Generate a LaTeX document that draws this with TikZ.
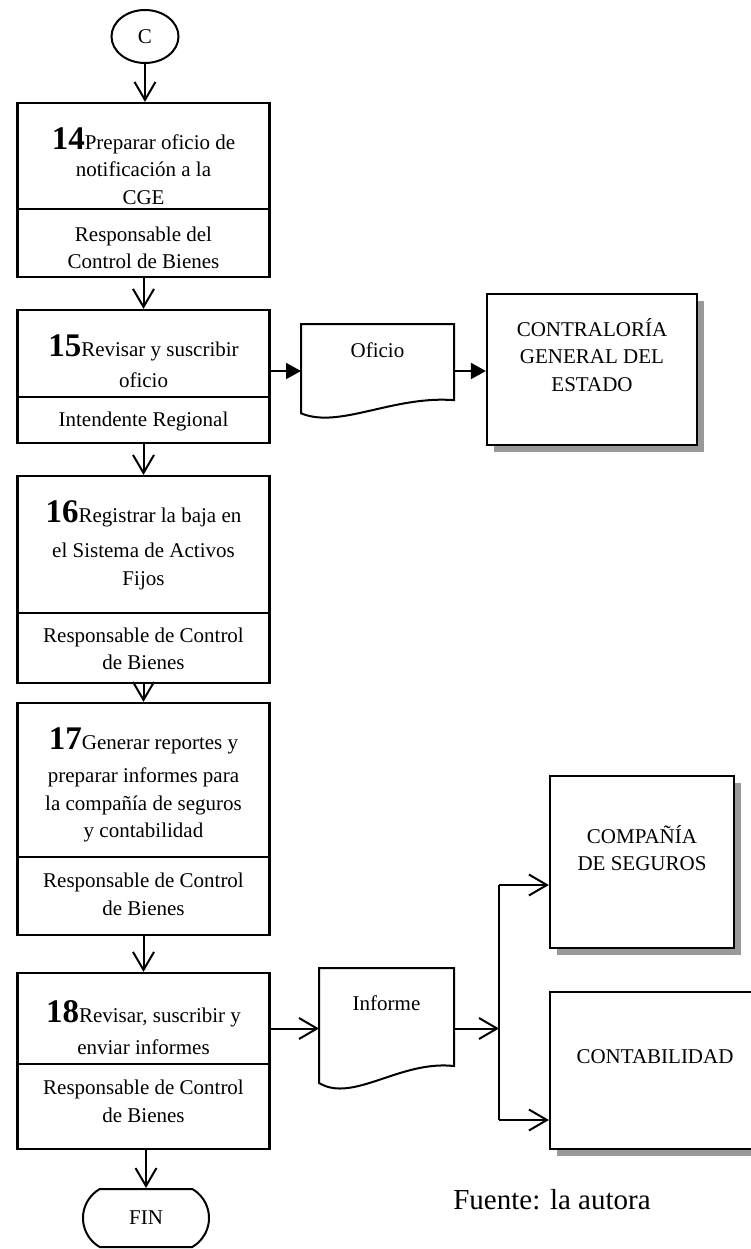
\documentclass[tikz,border=0pt]{standalone}
\usepackage{fontspec}
\setmainfont{Liberation Serif}
\usetikzlibrary{arrows.meta,shapes.geometric,shapes.misc,shadows}

% numero grande del paso
\newcommand{\npaso}[1]{{\fontsize{33}{27.5}\selectfont\bfseries #1}}
% contorno de documento (borde ondulado abajo) sobre el nodo #1, ancho #2, alto #3
\newcommand{\hoja}[3]{%
  \begin{scope}[shift={(#1.north west)},x=#2pt,y=-#3pt]
    \draw[line width=2pt] (0,0) -- (1,0) -- (1,0.81) .. controls (0.6,0.76) and (0.25,1.12) .. (0,0.95) -- cycle;
  \end{scope}}

\tikzset{
  caja/.style={draw, line width=2.2pt, minimum width=252pt, inner sep=0pt},
  texto/.style={align=center, font=\fontsize{21}{27.5}\selectfont, inner sep=0pt},
  externo/.style={draw, line width=2.2pt, fill=white, inner sep=0pt,
    drop shadow={shadow xshift=7pt, shadow yshift=-7pt, fill=black!40, opacity=1}},
  doc/.style={inner sep=0pt, outer sep=0pt},
  flecha/.style={line width=2pt, -{Straight Barb[length=18pt,width=21pt]}},
  flechallena/.style={line width=2pt, -{Triangle[length=15pt,width=16pt]}}
}

\begin{document}
\begin{tikzpicture}[x=1pt,y=-1pt]
  \useasboundingbox (0,0) rectangle (751,1249);

  % conector de entrada
  \node[draw, ellipse, line width=2pt, minimum width=67pt, minimum height=53pt, texto] (c) at (145,36.5) {C};

  % paso 14
  \node[caja, minimum height=106pt] (p14) at (143.5,156) {};
  \node[caja, minimum height=68pt] (r14) at (143.5,243) {};
  \node[texto] (tp14) at (143.5,166) {\npaso{14}Preparar oficio de\\notificación a la\\CGE};
  \node[texto] (tr14) at (143.5,248) {Responsable del\\Control de Bienes};

  % paso 15
  \node[caja, minimum height=87pt] (p15) at (143.5,353.5) {};
  \node[caja, minimum height=46pt] (r15) at (143.5,420) {};
  \node[texto] (tp15) at (143.5,361) {\npaso{15}Revisar y suscribir\\[4pt]oficio};
  \node[texto] (tr15) at (143.5,421) {Intendente Regional};

  % paso 16
  \node[caja, minimum height=137pt] (p16) at (143.5,544.5) {};
  \node[caja, minimum height=70pt] (r16) at (143.5,648) {};
  \node[texto] (tp16) at (143.5,545) {\npaso{16}Registrar la baja en\\[8pt]el Sistema de Activos\\Fijos};
  \node[texto] (tr16) at (143.5,649) {Responsable de Control\\de Bienes};

  % paso 17
  \node[caja, minimum height=154pt] (p17) at (143.5,780) {};
  \node[caja, minimum height=78pt] (r17) at (143.5,896) {};
  \node[texto] (tp17) at (143.5,785) {\npaso{17}Generar reportes y\\[6pt]preparar informes para\\la compañía de seguros\\y contabilidad};
  \node[texto] (tr17) at (143.5,894.5) {Responsable de Control\\de Bienes};

  % paso 18
  \node[caja, minimum height=91pt] (p18) at (143.5,1018.5) {};
  \node[caja, minimum height=85pt] (r18) at (143.5,1106.5) {};
  \node[texto] (tp18) at (143.5,1027.5) {\npaso{18}Revisar, suscribir y\\[5pt]enviar informes};
  \node[texto] (tr18) at (143.5,1101.5) {Responsable de Control\\de Bienes};

  % fin
  \node[draw, rounded rectangle, rounded rectangle arc length=120, line width=2pt,
        minimum width=126pt, minimum height=58pt, texto] (fin) at (146,1218) {FIN};

  % documentos
  \node[doc, minimum width=153pt, minimum height=94pt] (ofi) at (377.5,371) {};
  \hoja{ofi}{153}{94}
  \node[texto] (tofi) at (377.5,350) {Oficio};
  \node[doc, minimum width=135pt, minimum height=121pt] (inf) at (386.5,1028.5) {};
  \hoja{inf}{135}{121}
  \node[texto] (tinf) at (386.5,1003) {Informe};

  % destinatarios
  \node[externo, minimum width=210pt, minimum height=151pt] (cge) at (592,369.5) {};
  \node[texto] (tcge) at (592,355) {CONTRALORÍA\\GENERAL DEL\\ESTADO};
  \node[externo, minimum width=184pt, minimum height=172pt] (cs) at (642,862) {};
  \node[texto] (tcs) at (642,848) {COMPAÑÍA\\DE SEGUROS};
  \node[externo, minimum width=210pt, minimum height=157pt] (cont) at (655,1070.5) {};
  \node[texto] (tcont) at (655,1057) {CONTABILIDAD};

  \node[align=center, font=\fontsize{29}{34}\selectfont, inner sep=0pt] (fuente) at (552,1200) {Fuente: la autora};

  % flujo principal
  \draw[flecha] (c.south) -- (c.south |- p14.north);
  \draw[flecha] (r14.south) -- (p15.north);
  \draw[flecha] (r15.south) -- (p16.north);
  \draw[flecha] (r16.south) -- (p17.north);
  \draw[flecha] (r17.south) -- (p18.north);
  \draw[flecha] (r18.south -| fin.north) -- (fin.north);

  % envio del oficio
  \draw[flechallena] (p15.east |- ofi.west) -- (ofi.west);
  \draw[flechallena] (ofi.east) -- (ofi.east -| cge.west);

  % envio de informes
  \coordinate (bus) at (499,1030);
  \coordinate (bsup) at (499,885);
  \coordinate (binf) at (499,1120);
  \draw[flecha] (p18.east |- inf.west) -- (inf.west);
  \draw[flecha] (inf.east) -- (inf.east -| bus);
  \draw[line width=2pt] (bsup) -- (binf);
  \draw[flecha] (bsup) -- (bsup -| cs.west);
  \draw[flecha] (binf) -- (binf -| cont.west);
\end{tikzpicture}
\end{document}
